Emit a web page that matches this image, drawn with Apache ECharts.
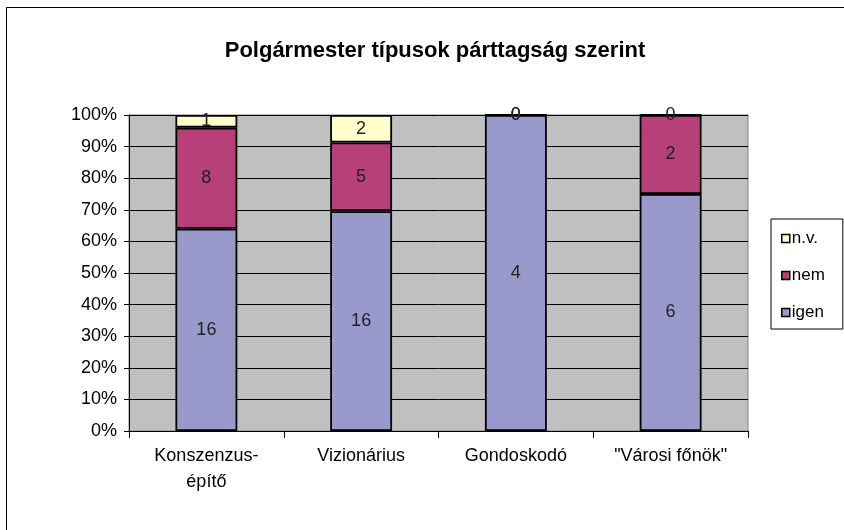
<!DOCTYPE html>
<html><head><meta charset="utf-8">
<script src="https://cdn.jsdelivr.net/npm/echarts@6/dist/echarts.min.js"></script>
<style>html,body{margin:0;padding:0;background:#fff}#c{width:844px;height:530px}</style>
</head><body><div id="c"></div>
<script>
var categories = ['Konszenzus-\népítő', 'Vizionárius', 'Gondoskodó', '"Városi főnök"'];
var igen = [16, 16, 4, 6];
var nem = [8, 5, 0, 2];
var nv = [1, 2, 0, 0];
var yTicks = [0, 10, 20, 30, 40, 50, 60, 70, 80, 90, 100];

var totals = categories.map(function (c, i) { return igen[i] + nem[i] + nv[i]; });
function pct(arr) {
  return arr.map(function (v, i) { return { value: v / totals[i] * 100, raw: v }; });
}
var font = 'Liberation Sans, Arial, sans-serif';
function mk(name, arr, color) {
  return {
    name: name, type: 'bar', stack: 'a', barWidth: '40%',
    data: pct(arr),
    itemStyle: { color: color, borderColor: '#000', borderWidth: 1.8 },
    label: {
      show: true, position: 'inside', fontFamily: font, fontSize: 18, color: '#222',
      formatter: function (p) { return String(p.data.raw); }
    },
    emphasis: { disabled: true }
  };
}
var chart = echarts.init(document.getElementById('c'), null, { renderer: 'canvas' });
chart.setOption({
  animation: false,
  backgroundColor: '#fff',
  title: {
    text: 'Polgármester típusok párttagság szerint',
    left: 430, top: 35, textAlign: 'center',
    textStyle: { fontFamily: font, fontSize: 22, fontWeight: 'bold', color: '#000' }
  },
  graphic: [{
    type: 'rect', shape: { x: 6.5, y: 7.5, width: 900, height: 600 },
    style: { fill: 'none', stroke: '#000', lineWidth: 1 }, silent: true, z: -1
  }],
  legend: {
    orient: 'vertical', left: 771, top: 219,
    data: ['n.v.', 'nem', 'igen'],
    itemWidth: 8, itemHeight: 8, itemGap: 20, padding: [11, 18, 8, 10],
    icon: 'rect',
    borderColor: '#000', borderWidth: 1,
    textStyle: { fontFamily: font, fontSize: 17, color: '#000', padding: [0, 0, 0, -3] },
    itemStyle: { borderColor: '#000', borderWidth: 1.5 }
  },
  grid: {
    left: 129, right: 96, top: 115, bottom: 99, show: true,
    backgroundColor: '#C0C0C0', borderColor: '#808080', borderWidth: 1
  },
  xAxis: {
    type: 'category', data: categories,
    axisLine: { lineStyle: { color: '#000' } },
    axisTick: { show: true, length: 7, lineStyle: { color: '#000' } },
    axisLabel: { fontFamily: font, fontSize: 18, color: '#000', margin: 12, lineHeight: 26 }
  },
  yAxis: {
    type: 'value', min: 0, max: 100, interval: 10,
    axisLine: { show: true, lineStyle: { color: '#000' } },
    axisTick: { show: true, length: 5, lineStyle: { color: '#000' } },
    axisLabel: {
      fontFamily: font, fontSize: 18, color: '#000', margin: 12,
      formatter: function (v) { return yTicks.indexOf(v) >= 0 ? v + '%' : ''; }
    },
    splitLine: { lineStyle: { color: '#000', width: 1 } }
  },
  series: [
    mk('igen', igen, '#9999CC'),
    mk('nem', nem, '#B8407A'),
    mk('n.v.', nv, '#FFFFCC')
  ]
});
</script></body></html>
